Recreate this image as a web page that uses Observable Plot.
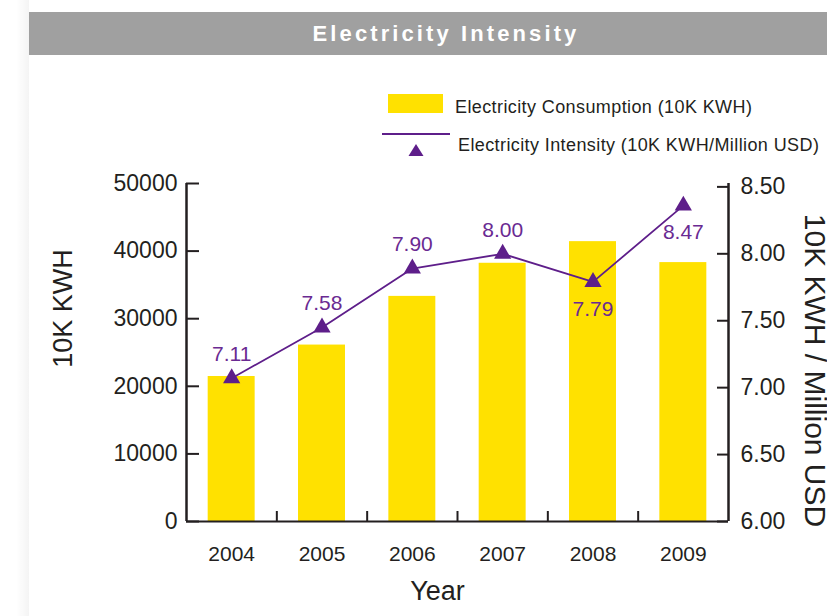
<!DOCTYPE html>
<html>
<head>
<meta charset="utf-8">
<script src="https://cdn.jsdelivr.net/npm/d3@7"></script>
<script src="https://cdn.jsdelivr.net/npm/@observablehq/plot@0.6"></script>
<style>
  html, body { margin: 0; padding: 0; background: #fff; }
  body { width: 827px; height: 616px; overflow: hidden; position: relative; font-family: "Liberation Sans", Arial, sans-serif; color: #231f20; }
  #shadow { position: absolute; left: 16px; top: 0; width: 13px; height: 616px; background: linear-gradient(to right, rgba(0,0,0,0), rgba(0,0,0,0.045)); }
  #header { position: absolute; left: 29px; top: 12px; width: 798px; height: 43px; background: #a0a0a0; box-sizing: border-box; padding-left: 36px; text-align: center; color: #fff; font-weight: bold; font-size: 22px; letter-spacing: 3.1px; line-height: 44px; }
  #chart { position: absolute; left: 0; top: 55px; }
  .lg { position: absolute; white-space: nowrap; line-height: 18px; font-size: 18px; letter-spacing: 0.4px; color: #231f20; }
</style>
</head>
<body>
<div id="shadow"></div>
<div id="header">Electricity Intensity</div>
<div id="chart"></div>
<div style="position:absolute;left:388px;top:94px;width:55px;height:19px;background:#ffe100;"></div>
<div class="lg" style="left:455px;top:98px;">Electricity Consumption (10K KWH)</div>
<div style="position:absolute;left:382px;top:133px;width:68px;height:1.6px;background:#5e1e8a;"></div>
<svg style="position:absolute;left:408px;top:143px;" width="16" height="14"><polygon points="8,1 15.5,13 0.5,13" fill="#5e1e8a"/></svg>
<div class="lg" style="left:458px;top:136px;">Electricity Intensity (10K KWH/Million USD)</div>
<script>
// ---- data ----
const years = [2004, 2005, 2006, 2007, 2008, 2009];
const consumption = [21450, 26100, 33300, 38200, 41400, 38300];          // 10K KWH
const intensity = [7.07, 7.45, 7.89, 8.00, 7.79, 8.36];                   // plotted marker values
const intensityLabels = ["7.11", "7.58", "7.90", "8.00", "7.79", "8.47"]; // printed labels
const leftTicks = [0, 10000, 20000, 30000, 40000, 50000];
const rightTicks = [6.00, 6.50, 7.00, 7.50, 8.00, 8.50];

// ---- layout / style ----
const ink = "#231f20";
const purple = "#5e1e8a";
const labelPurple = "#6a2a92";
const yellow = "#ffe100";
const labelsBelow = new Set([2008, 2009]);

// right axis (6.00 .. 8.50) mapped onto the left scale
const rightMin = 6, rightMax = 8.5, rightTopOnLeft = 49500;
const toLeft = v => (v - rightMin) / (rightMax - rightMin) * rightTopOnLeft;
const fromLeft = d => rightMin + d / rightTopOnLeft * (rightMax - rightMin);

const data = years.map((year, i) => ({
  year, consumption: consumption[i], intensity: intensity[i], label: intensityLabels[i]
}));
const boundaries = years.slice(0, -1).map(y => y + 0.5);
const halfBar = 0.26;

const W = 827, H = 561, mL = 186, mR = 99, mT = 128, mB = 95;
const frameW = W - mL - mR, frameH = H - mT - mB;

const chart = Plot.plot({
  width: W, height: H,
  marginLeft: mL, marginRight: mR, marginTop: mT, marginBottom: mB,
  style: { fontFamily: "'Liberation Sans', Arial, sans-serif", background: "transparent", overflow: "visible" },
  x: { type: "linear", domain: [years[0] - 0.5, years[years.length - 1] + 0.5] },
  y: { domain: [leftTicks[0], leftTicks[leftTicks.length - 1]] },
  marks: [
    Plot.rectY(data, { x1: d => d.year - halfBar, x2: d => d.year + halfBar, y: "consumption", fill: yellow }),
    // axis lines
    Plot.ruleX([years[0] - 0.5, years[years.length - 1] + 0.5], { stroke: ink, strokeWidth: 2.5 }),
    Plot.ruleY([0], { stroke: ink, strokeWidth: 2.2 }),
    // inward ticks
    Plot.tickY(leftTicks, { y: d => d, insetRight: frameW - 13, stroke: ink, strokeWidth: 2 }),
    Plot.tickY(rightTicks.map(toLeft), { y: d => d, insetLeft: frameW - 11, stroke: ink, strokeWidth: 2 }),
    Plot.tickX(boundaries, { x: d => d, insetTop: frameH - 10, stroke: ink, strokeWidth: 2 }),
    // axes labels
    Plot.axisY(leftTicks, { anchor: "left", tickSize: 0, tickPadding: 9, fontSize: 23, fill: ink, label: null,
      tickFormat: d => String(d) }),
    Plot.axisY(rightTicks.map(toLeft), { anchor: "right", tickSize: 0, tickPadding: 12, fontSize: 23, fill: ink, label: null,
      tickFormat: d => fromLeft(d).toFixed(2) }),
    Plot.axisX(years, { anchor: "bottom", tickSize: 0, tickPadding: 25, fontSize: 21, fill: ink, label: null,
      tickFormat: d => String(d) }),
    // axis titles
    Plot.text(["10K KWH"], { frameAnchor: "left", textAnchor: "middle", lineAnchor: "middle", dx: -123, dy: -44, rotate: -90, fontSize: 27, fill: ink }),
    Plot.text(["10K KWH / Million USD"], { frameAnchor: "right", textAnchor: "middle", lineAnchor: "middle", dx: 86, dy: 18, rotate: 90, fontSize: 30, fill: ink }),
    Plot.text(["Year"], { frameAnchor: "bottom", textAnchor: "middle", lineAnchor: "middle", dx: -20, dy: 70, fontSize: 27, fill: ink }),
    // intensity line
    Plot.line(data, { x: "year", y: d => toLeft(d.intensity), stroke: purple, strokeWidth: 1.8 }),
    Plot.dot(data, { x: "year", y: d => toLeft(d.intensity), symbol: "triangle", r: 6.4, fill: purple, stroke: null }),
    Plot.text(data.filter(d => !labelsBelow.has(d.year)), { x: "year", y: d => toLeft(d.intensity), text: "label", dy: -24, fontSize: 21, fill: labelPurple }),
    Plot.text(data.filter(d => labelsBelow.has(d.year)), { x: "year", y: d => toLeft(d.intensity), text: "label", dy: 27, fontSize: 21, fill: labelPurple })
  ]
});
document.getElementById("chart").appendChild(chart);
</script>
</body>
</html>
